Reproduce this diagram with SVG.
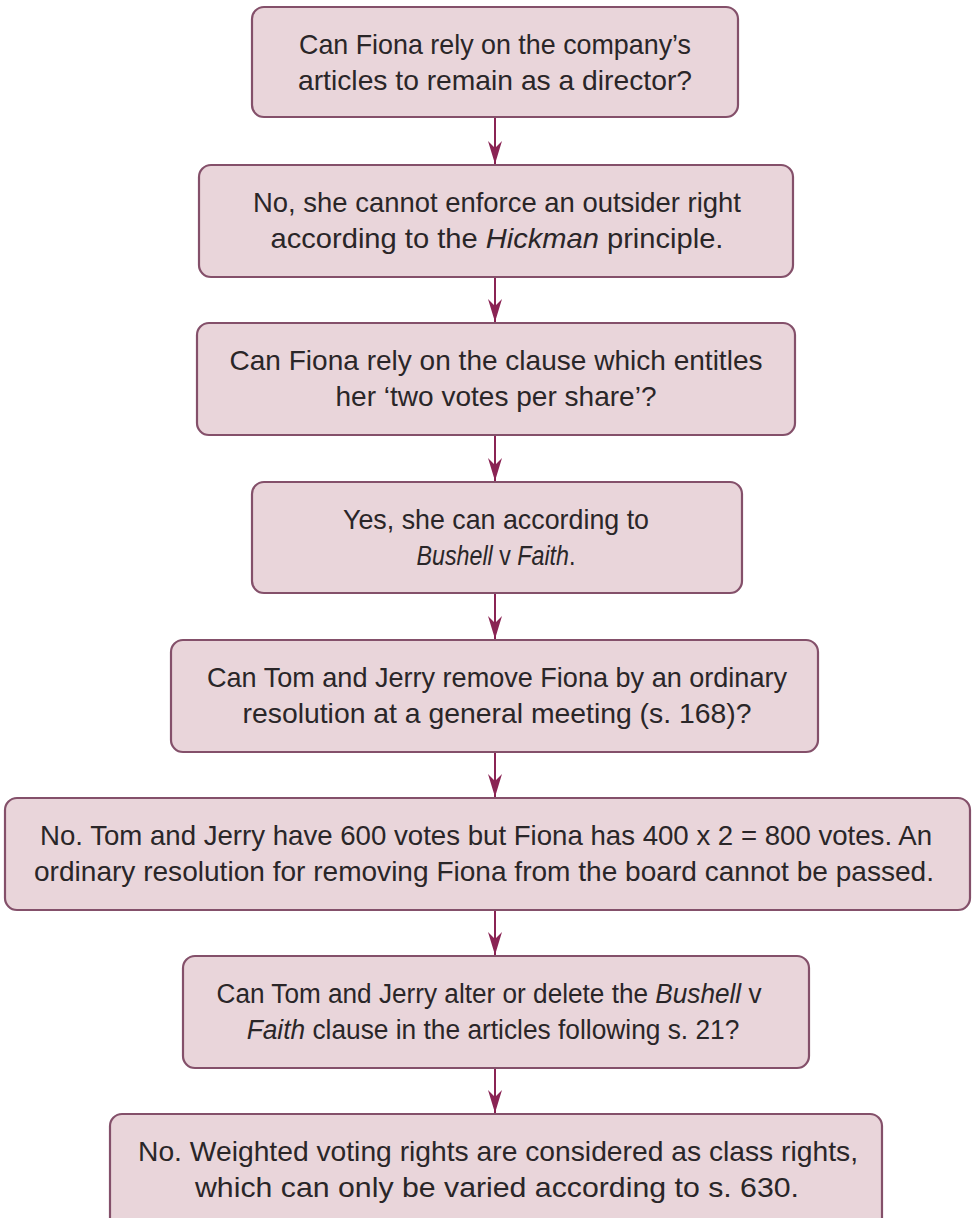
<svg xmlns="http://www.w3.org/2000/svg" width="972" height="1218" viewBox="0 0 972 1218">
  <style>
    .box { fill: #e9d5da; stroke: #84506a; stroke-width: 2.2; }
    .t { font-family: "Liberation Sans", Arial, sans-serif; font-size: 28px; fill: #2a2628; text-anchor: middle; }
    .i { font-style: italic; }
    .edge { stroke: #8a2454; stroke-width: 2; fill: none; marker-end: url(#head); }
  </style>
  <defs>
    <marker id="head" markerUnits="userSpaceOnUse" markerWidth="30" markerHeight="20" viewBox="-24 -10 26 20" refX="0" refY="0" orient="auto">
      <path d="M0,0 L-23,-7 L-16,0 L-23,7 Z" fill="#8a2454"/>
    </marker>
  </defs>
  <rect width="972" height="1218" fill="#ffffff"/>

  <g id="connectors">
    <line class="edge" x1="495" y1="118" x2="495" y2="164"/>
    <line class="edge" x1="495" y1="277" x2="495" y2="322"/>
    <line class="edge" x1="495" y1="435" x2="495" y2="481"/>
    <line class="edge" x1="495" y1="593" x2="495" y2="639"/>
    <line class="edge" x1="495" y1="752" x2="495" y2="797"/>
    <line class="edge" x1="495" y1="910" x2="495" y2="955"/>
    <line class="edge" x1="495" y1="1068" x2="495" y2="1113"/>
  </g>

  <g id="n1">
    <rect class="box" x="252" y="7" width="486" height="110" rx="12"/>
    <text class="t" x="495" y="54" textLength="392" lengthAdjust="spacingAndGlyphs">Can Fiona rely on the company’s</text>
    <text class="t" x="495" y="90" textLength="394" lengthAdjust="spacingAndGlyphs">articles to remain as a director?</text>
  </g>

  <g id="n2">
    <rect class="box" x="199" y="165" width="594" height="112" rx="12"/>
    <text class="t" x="497" y="212" textLength="488" lengthAdjust="spacingAndGlyphs">No, she cannot enforce an outsider right</text>
    <text class="t" transform="translate(497,248) scale(1.04,1)" x="0" y="0">according to the <tspan class="i">Hickman</tspan> principle.</text>
  </g>

  <g id="n3">
    <rect class="box" x="197" y="323" width="598" height="112" rx="12"/>
    <text class="t" x="496" y="370" textLength="533" lengthAdjust="spacingAndGlyphs">Can Fiona rely on the clause which entitles</text>
    <text class="t" x="496" y="406" textLength="321" lengthAdjust="spacingAndGlyphs">her ‘two votes per share’?</text>
  </g>

  <g id="n4">
    <rect class="box" x="252" y="482" width="490" height="111" rx="12"/>
    <text class="t" x="496" y="529" textLength="306" lengthAdjust="spacingAndGlyphs">Yes, she can according to</text>
    <text class="t" transform="translate(496,565) scale(0.83,1)" x="0" y="0"><tspan class="i">Bushell</tspan> v <tspan class="i">Faith</tspan>.</text>
  </g>

  <g id="n5">
    <rect class="box" x="171" y="640" width="647" height="112" rx="12"/>
    <text class="t" x="497" y="687" textLength="580" lengthAdjust="spacingAndGlyphs">Can Tom and Jerry remove Fiona by an ordinary</text>
    <text class="t" x="497" y="723" textLength="509" lengthAdjust="spacingAndGlyphs">resolution at a general meeting (s. 168)?</text>
  </g>

  <g id="n6">
    <rect class="box" x="5" y="798" width="965" height="112" rx="12"/>
    <text class="t" x="486" y="845" textLength="892" lengthAdjust="spacingAndGlyphs">No. Tom and Jerry have 600 votes but Fiona has 400 x 2 = 800 votes. An</text>
    <text class="t" x="484" y="881" textLength="900" lengthAdjust="spacingAndGlyphs">ordinary resolution for removing Fiona from the board cannot be passed.</text>
  </g>

  <g id="n7">
    <rect class="box" x="183" y="956" width="626" height="112" rx="12"/>
    <text class="t" transform="translate(489,1003) scale(0.935,1)" x="0" y="0">Can Tom and Jerry alter or delete the <tspan class="i">Bushell</tspan> v</text>
    <text class="t" transform="translate(493,1039) scale(0.94,1)" x="0" y="0"><tspan class="i">Faith</tspan> clause in the articles following s. 21?</text>
  </g>

  <g id="n8">
    <rect class="box" x="110" y="1114" width="772" height="130" rx="12"/>
    <text class="t" x="498" y="1161" textLength="720" lengthAdjust="spacingAndGlyphs">No.  Weighted voting rights are considered as class rights,</text>
    <text class="t" x="497" y="1197" textLength="604" lengthAdjust="spacingAndGlyphs">which can only be varied according to s. 630.</text>
  </g>
</svg>
